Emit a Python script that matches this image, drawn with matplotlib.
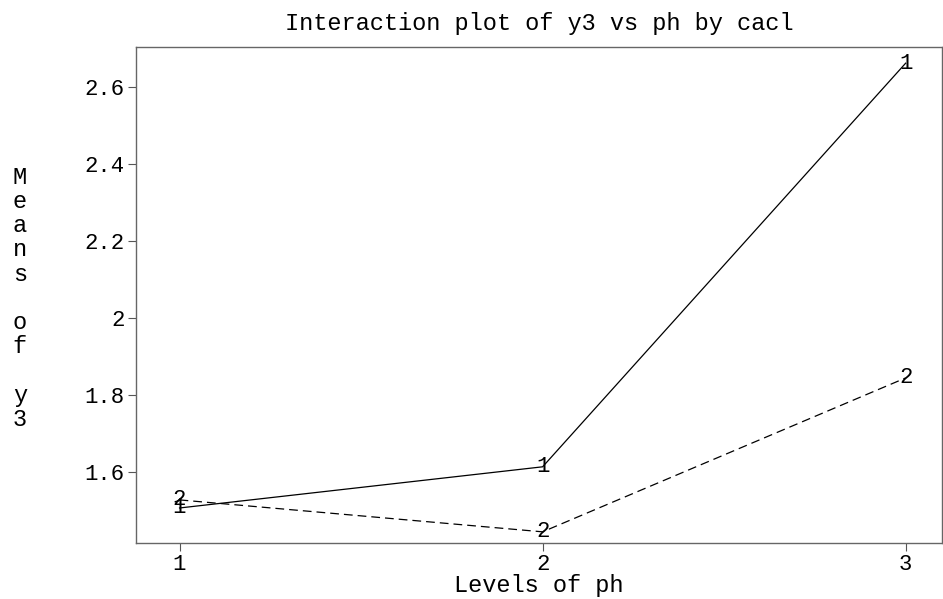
import matplotlib
matplotlib.use('Agg')
import matplotlib.pyplot as plt

# data
ph_levels = [1, 2, 3]
cacl1_means = [1.506, 1.613, 2.662]
cacl2_means = [1.527, 1.444, 1.844]
y_ticks = [1.6, 1.8, 2.0, 2.2, 2.4, 2.6]
y_tick_labels = ['1.6', '1.8', '2', '2.2', '2.4', '2.6']

plt.rcParams['font.family'] = ['Liberation Mono', 'DejaVu Sans Mono']

fig = plt.figure(figsize=(9.43, 5.99), dpi=100)
ax = fig.add_axes([0.1442, 0.0935, 0.8547, 0.828])

ax.plot(ph_levels, cacl1_means, color='black', lw=0.9)
ax.plot(ph_levels, cacl2_means, color='black', lw=0.9, dashes=(7, 4))
for x, y in zip(ph_levels, cacl1_means):
    ax.text(x, y, '1', ha='center', va='center', fontsize=16)
for x, y in zip(ph_levels, cacl2_means):
    ax.text(x, y, '2', ha='center', va='center', fontsize=16)

ax.set_xlim(0.88, 3.10)
ax.set_ylim(1.415, 2.704)
ax.set_xticks(ph_levels)
ax.set_xticklabels([str(v) for v in ph_levels])
ax.set_yticks(y_ticks)
ax.set_yticklabels(y_tick_labels)
ax.tick_params(direction='out', length=6, width=0.8, labelsize=16, color='#555555', pad=2)
for s in ax.spines.values():
    s.set_color('#666666')
    s.set_linewidth(1.0)

ax.set_xlabel('Levels of ph', fontsize=17, labelpad=-1)
ax.set_title('Interaction plot of y3 vs ph by cacl', fontsize=17, pad=12)
fig.text(0.021, 0.502, 'M\ne\na\nn\ns\n\no\nf\n\ny\n3', ha='center', va='center',
         fontsize=17, linespacing=1.07)

fig.savefig('out.png', dpi=100)
